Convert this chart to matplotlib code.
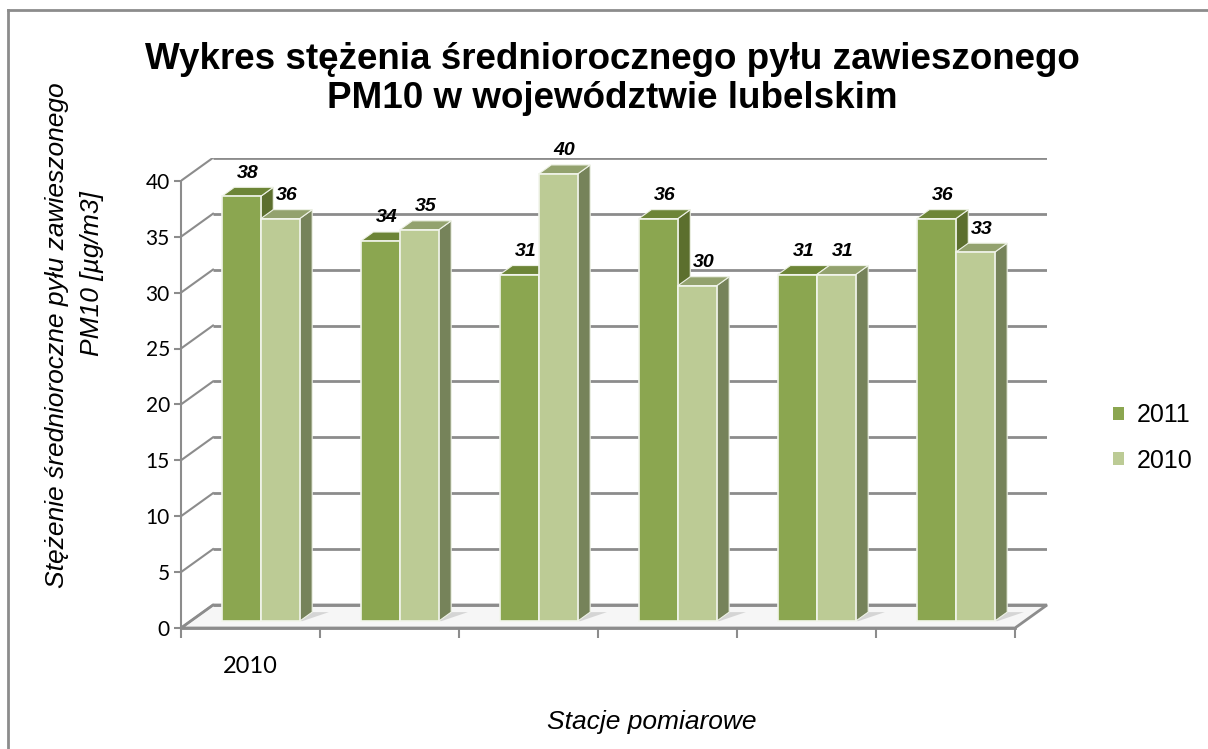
import matplotlib.pyplot as plt
from matplotlib.patches import Polygon, Patch
from matplotlib.lines import Line2D

# data
stations = ["2010", "", "", "", "", ""]
series_names = ["2011", "2010"]
vals_2011 = [38, 34, 31, 36, 31, 36]
vals_2010 = [36, 35, 40, 30, 31, 33]
yticks = [0, 5, 10, 15, 20, 25, 30, 35, 40]

front_cols = ["#8ba650", "#bccb95"]
top_cols = ["#6d8537", "#93a26e"]
side_cols = ["#5c6f2e", "#76835a"]
grid_col = "#8c8c8c"

W, H = 1208, 749
fig = plt.figure(figsize=(W / 100, H / 100), dpi=100)

n = len(stations)
ymax = 40
px_cat = 139.0
px_unit = 11.18
DX = 32 / px_cat  # wall depth in category units
DY = 23 / px_unit  # wall depth in value units

ax_w = (n + DX) * px_cat
ax_h = (ymax + DY) * px_unit
ax = fig.add_axes([181 / W, 121 / H, ax_w / W, ax_h / H])
ax.set_xlim(0, n + DX)
ax.set_ylim(0, ymax + DY)
ax.patch.set_alpha(0)

# floor
floor = Polygon([(0, 0), (n, 0), (n + DX, DY), (DX, DY)], closed=True,
                facecolor="#f6f6f6", edgecolor=grid_col, lw=2, zorder=1,
                clip_on=False)
ax.add_patch(floor)

# back wall gridlines + left wall diagonals
for v in yticks:
    ax.plot([DX, n + DX], [v + DY, v + DY], color=grid_col, lw=2, zorder=1,
            solid_capstyle="butt")
    ax.plot([0, DX], [v, v + DY], color=grid_col, lw=1.5, zorder=1)

# bars
f0, f1 = 0.30, 0.69
bw = 0.28
offsets = [0.225, 0.505]
for i in range(n):
    for s, vals in enumerate([vals_2011, vals_2010]):
        v = vals[i]
        x0 = i + offsets[s] + f0 * DX
        x1 = x0 + bw
        b0 = f0 * DY
        ddx = (f1 - f0) * DX
        ddy = (f1 - f0) * DY
        # floor shadow
        ax.add_patch(Polygon([(x1, b0), (x1 + ddx, b0 + ddy),
                              (x1 + ddx + 0.12, b0 + ddy), (x1 + 0.02, b0)],
                             closed=True, facecolor="#c8c8c8", edgecolor="none",
                             alpha=0.7, zorder=2))
        side = Polygon([(x1, b0), (x1 + ddx, b0 + ddy), (x1 + ddx, b0 + ddy + v),
                        (x1, b0 + v)], closed=True, facecolor=side_cols[s],
                       edgecolor="#eef2e6", lw=0.8, zorder=3)
        top = Polygon([(x0, b0 + v), (x1, b0 + v), (x1 + ddx, b0 + ddy + v),
                       (x0 + ddx, b0 + ddy + v)], closed=True,
                      facecolor=top_cols[s], edgecolor="#eef2e6", lw=0.8, zorder=3)
        ax.add_patch(side)
        ax.add_patch(top)
        ax.bar(x0, v, width=bw, bottom=b0, align="edge", color=front_cols[s],
               edgecolor="#f2f5ec", lw=1.2, zorder=3)
        ax.text(x0 + bw / 2 + 0.5 * ddx, b0 + ddy + v + 0.5, str(v),
                ha="center", va="bottom", fontsize=14, fontweight="bold",
                fontstyle="italic", family="Liberation Sans", zorder=4)

# axes / ticks
for sp in ["top", "right"]:
    ax.spines[sp].set_visible(False)
ax.spines["left"].set_bounds(0, ymax)
ax.spines["bottom"].set_bounds(0, n)
ax.spines["left"].set_color(grid_col)
ax.spines["bottom"].set_color(grid_col)
ax.spines["left"].set_linewidth(1.5)
ax.spines["bottom"].set_linewidth(2)
ax.set_yticks(yticks)
ax.set_yticklabels([str(t) for t in yticks], fontsize=15, family="Lato")
ax.tick_params(axis="y", direction="out", length=5, width=1.5, color=grid_col,
               pad=3)
ax.set_xticks(range(n + 1))
ax.set_xticklabels([""] * (n + 1))
ax.tick_params(axis="x", direction="out", length=7, width=1.5, color=grid_col)
ax.set_xticks([i + 0.5 for i in range(n)], minor=True)
ax.set_xticklabels(stations, minor=True, fontsize=17, family="Lato")
ax.tick_params(axis="x", which="minor", length=0, pad=20)

# x label
fig.text(652 / W, 1 - 722 / H, "Stacje pomiarowe", ha="center", va="center",
         fontsize=19, fontstyle="italic", family="Liberation Sans")

# y label (two lines, placed separately)
fig.text(57 / W, 1 - 335 / H, "Stężenie średnioroczne pyłu zawieszonego",
         rotation=90, ha="center", va="center", fontsize=19,
         fontstyle="italic", family="Liberation Sans")
fig.text(92 / W, 1 - 274 / H, "PM10 [µg/m3]", rotation=90, ha="center",
         va="center", fontsize=19, fontstyle="italic", family="Liberation Sans")

# title
fig.text(612 / W, 1 - 79 / H,
         "Wykres stężenia średniorocznego pyłu zawieszonego\nPM10 w województwie lubelskim",
         ha="center", va="center", fontsize=26.5, fontweight="bold",
         family="Liberation Sans", linespacing=1.15)

# legend
handles = [Patch(facecolor=front_cols[0]), Patch(facecolor=front_cols[1])]
fig.legend(handles, series_names, loc="center left",
           bbox_to_anchor=(1090 / W, 1 - 438 / H), frameon=False,
           prop={"family": "Liberation Sans", "size": 18},
           handlelength=0.45, handleheight=0.45, handletextpad=0.5,
           labelspacing=0.85)

# outer border
fig.add_artist(Line2D([8 / W, 8 / W], [0, 1 - 10 / H], color="#8c8c8c", lw=2,
                      transform=fig.transFigure))
fig.add_artist(Line2D([8 / W, 1], [1 - 10 / H, 1 - 10 / H], color="#8c8c8c",
                      lw=2, transform=fig.transFigure))

fig.savefig("out.png", dpi=100)
